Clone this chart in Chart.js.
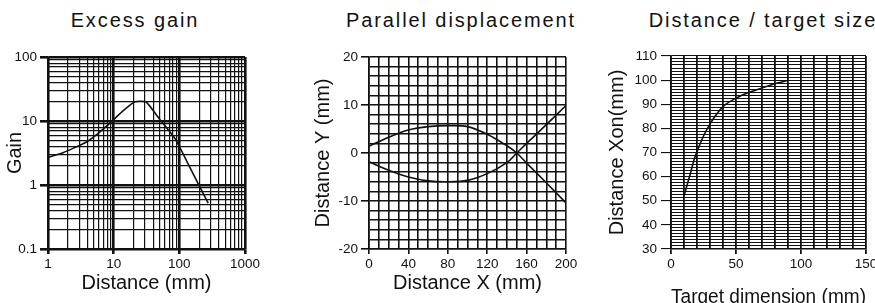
<!DOCTYPE html>
<html>
<head>
<script src="https://cdn.jsdelivr.net/npm/chart.js@4.4.0/dist/chart.umd.min.js"></script>
<style>
    body { margin: 0; width: 875px; height: 303px; overflow: hidden; background: #fff; position: relative;
           font-family: "Liberation Sans", Arial, sans-serif; }
    canvas { position: absolute; top: 0; }
    .ttl { position: absolute; top: 10px; width: 300px; text-align: center; font-size: 20px; line-height: 20px;
           letter-spacing: 1.9px; color: #111; white-space: nowrap; }
</style>
</head>
<body>

<div class="ttl" style="left:-15px">Excess gain</div>
<div class="ttl" style="left:311px">Parallel displacement</div>
<div class="ttl" style="left:613px">Distance / target size</div>

<canvas id="gainChart" width="262" height="315" style="left:0px"></canvas>
<canvas id="dispChart" width="300" height="315" style="left:290px"></canvas>
<canvas id="sizeChart" width="285" height="315" style="left:590px"></canvas>

<script>
// ---- data ----
// excess gain (log / log)
const gainDist = [1, 1.7, 2.5, 3.85, 6, 9, 14, 21, 31, 50, 87, 150, 275];
const gainVal  = [2.7, 3.2, 3.8, 4.7, 6.6, 9.5, 14.5, 20, 20, 10.7, 5.2, 1.75, 0.52];
const gainXLabels = [1, 10, 100, 1000];
const gainYLabels = [0.1, 1, 10, 100];

// parallel displacement
const dispX     = [0, 20, 40, 60, 80, 100, 120, 140, 150, 160, 180, 200];
const dispUpper = [1.4, 3.3, 4.8, 5.5, 5.7, 5.5, 3.9, 1.5, 0, -2.1, -6.2, -10.4];
const dispLower = [-1.8, -3.6, -5.0, -5.8, -6.0, -5.7, -4.3, -2.0, 0, 2.0, 5.9, 9.9];
const dispXLabels = [0, 40, 80, 120, 160, 200];
const dispYLabels = [-20, -10, 0, 10, 20];

// distance / target size
const targetDim = [10, 15, 18.6, 27.5, 40, 53, 66, 78, 89];
const distXon   = [52, 61.5, 68.4, 79.5, 89, 93.3, 96, 98.2, 99.7];
const sizeXLabels = [0, 50, 100, 150];
const sizeYLabels = [30, 40, 50, 60, 70, 80, 90, 100, 110];

Chart.defaults.font.family = '"Liberation Sans", Arial, sans-serif';
Chart.defaults.color = '#111';

const tickFont = { size: 13.5 };
const titleFont = { size: 20 };
const ink = '#111';

function pts(xs, ys) {
    return xs.map((x, i) => ({ x: x, y: ys[i] }));
}

// fix the axis box size so the plot area lands where it should
function fixBox(size) {
    return function (scale) {
        if (scale.isHorizontal()) scale.height = size; else scale.width = size;
        scale.paddingLeft = 0; scale.paddingRight = 0;
        scale.paddingTop = 0; scale.paddingBottom = 0;
    };
}

function near(list, v) {
    return list.some(l => Math.abs(l - v) < 1e-6 * Math.max(1, Math.abs(l)));
}

function logGrid(min, max) {
    const out = [];
    for (let d = min; d < max * 0.999; d *= 10) {
        for (let k = 1; k <= 9; k++) out.push(+(d * k).toPrecision(6));
    }
    out.push(max);
    return out;
}

function lineSet(data) {
    return {
        data: data,
        borderColor: ink,
        borderWidth: 1.6,
        pointRadius: 0,
        tension: 0.35,
        fill: false
    };
}

function baseOptions(pad) {
    return {
        responsive: false,
        animation: false,
        events: [],
        layout: { padding: pad },
        plugins: { legend: { display: false }, tooltip: { enabled: false } }
    };
}

// ---- chart 1 : excess gain ----
const gainOpts = baseOptions({ top: 57, right: 17, left: 0, bottom: 0 });
gainOpts.scales = {
    x: {
        type: 'logarithmic', min: 1, max: 1000,
        afterBuildTicks: s => { s.ticks = logGrid(1, 1000).map(v => ({ value: v })); },
        afterFit: fixBox(66),
        ticks: { autoSkip: false, maxRotation: 0, padding: 2, font: tickFont,
                 callback: v => near(gainXLabels, v) ? String(v) : '' },
        grid: { color: ink, tickLength: 5,
                lineWidth: c => near(gainXLabels, c.tick.value) ? 2.6 : 1.2,
                tickColor: c => near(gainXLabels, c.tick.value) ? ink : 'rgba(0,0,0,0)' },
        border: { color: ink, width: 1.5 },
        title: { display: true, text: 'Distance (mm)', font: titleFont, color: ink, padding: { top: 0, bottom: 20 } }
    },
    y: {
        type: 'logarithmic', min: 0.1, max: 100,
        afterBuildTicks: s => { s.ticks = logGrid(0.1, 100).map(v => ({ value: v })); },
        afterFit: fixBox(48),
        ticks: { autoSkip: false, padding: 3, font: tickFont,
                 callback: v => near(gainYLabels, v) ? String(v) : '' },
        grid: { color: ink, tickLength: 8,
                lineWidth: c => near(gainYLabels, c.tick.value) ? 2.6 : 1.2,
                tickColor: c => near(gainYLabels, c.tick.value) ? ink : 'rgba(0,0,0,0)' },
        border: { color: ink, width: 1.5 },
        title: { display: true, text: 'Gain', font: titleFont, color: ink, padding: { top: 3, bottom: 0 } }
    }
};
new Chart(document.getElementById('gainChart'), {
    type: 'line',
    data: { datasets: [Object.assign(lineSet(pts(gainDist, gainVal)), { tension: 0.15 })] },
    options: gainOpts
});

// ---- chart 2 : parallel displacement ----
const dispOpts = baseOptions({ top: 57, right: 24, left: 0, bottom: 0 });
dispOpts.scales = {
    x: {
        type: 'linear', min: 0, max: 200,
        afterFit: fixBox(66),
        ticks: { stepSize: 10, autoSkip: false, maxRotation: 0, padding: 2, font: tickFont,
                 callback: v => near(dispXLabels, v) ? String(v) : '' },
        grid: { color: ink, lineWidth: 1.6, tickLength: 5,
                tickColor: c => near(dispXLabels, c.tick.value) ? ink : 'rgba(0,0,0,0)' },
        border: { color: ink, width: 1.6 },
        title: { display: true, text: 'Distance X (mm)', font: titleFont, color: ink, padding: { top: 0, bottom: 20 } }
    },
    y: {
        type: 'linear', min: -20, max: 20,
        afterFit: fixBox(79),
        ticks: { stepSize: 2, autoSkip: false, padding: 3, font: tickFont,
                 callback: v => near(dispYLabels, v) ? String(v) : '' },
        grid: { color: ink, lineWidth: 1.6, tickLength: 8,
                tickColor: c => near(dispYLabels, c.tick.value) ? ink : 'rgba(0,0,0,0)' },
        border: { color: ink, width: 1.6 },
        title: { display: true, text: 'Distance Y (mm)', font: titleFont, color: ink, padding: { top: 21, bottom: 0 } }
    }
};
new Chart(document.getElementById('dispChart'), {
    type: 'line',
    data: { datasets: [lineSet(pts(dispX, dispUpper)), lineSet(pts(dispX, dispLower))] },
    options: dispOpts
});

// ---- chart 3 : distance / target size ----
const sizeOpts = baseOptions({ top: 56, right: 9, left: 0, bottom: 0 });
sizeOpts.scales = {
    x: {
        type: 'linear', min: 0, max: 150,
        afterFit: fixBox(66),
        ticks: { stepSize: 10, autoSkip: false, maxRotation: 0, padding: 2, font: tickFont,
                 callback: v => near(sizeXLabels, v) ? String(v) : '' },
        grid: { color: ink, lineWidth: 1.8, tickLength: 5,
                tickColor: c => near(sizeXLabels, c.tick.value) ? ink : 'rgba(0,0,0,0)' },
        border: { color: ink, width: 1.6 },
        title: { display: true, text: 'Target dimension (mm)', font: titleFont, color: ink, padding: { top: 0, bottom: 6 } }
    },
    y: {
        type: 'linear', min: 30, max: 110,
        afterFit: fixBox(81),
        ticks: { stepSize: 1.25, autoSkip: false, padding: 4, font: tickFont,
                 callback: v => near(sizeYLabels, v) ? String(Math.round(v)) : '' },
        grid: { color: ink, lineWidth: 1.1, tickLength: 10,
                tickColor: c => near(sizeYLabels, c.tick.value) ? ink : 'rgba(0,0,0,0)' },
        border: { color: ink, width: 1.6 },
        title: { display: true, text: 'Distance Xon(mm)', font: titleFont, color: ink, padding: { top: 15, bottom: 0 } }
    }
};
new Chart(document.getElementById('sizeChart'), {
    type: 'line',
    data: { datasets: [lineSet(pts(targetDim, distXon))] },
    options: sizeOpts
});
</script>

</body>
</html>
